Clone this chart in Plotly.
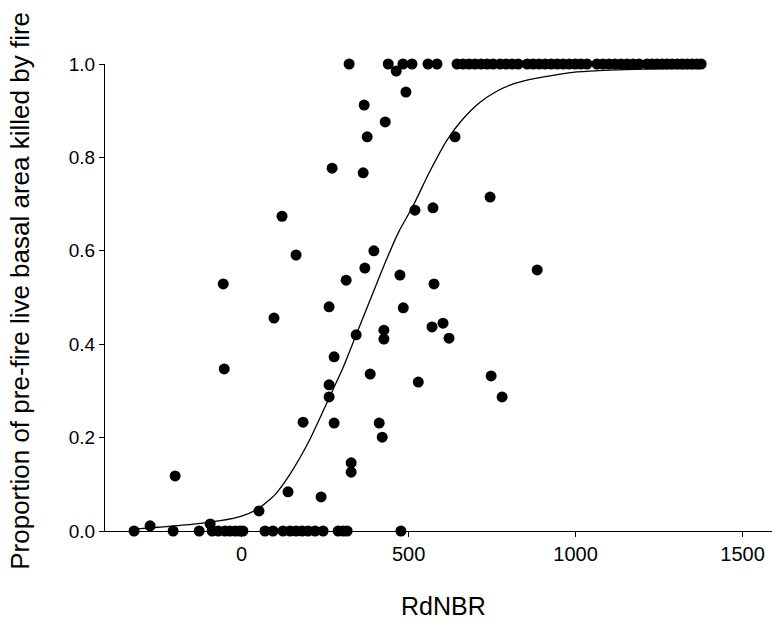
import plotly.graph_objects as go

# Scatter data (RdNBR, proportion killed)
top_x = [322, 439, 483, 510, 558, 585, 645, 663, 681, 699, 717, 735, 753, 774, 792, 810, 828,
         855, 873, 891, 909, 927, 945, 963, 981, 999, 1016, 1034,
         1064, 1082, 1100, 1118, 1136, 1154, 1172, 1190,
         1214, 1229, 1244, 1259, 1274, 1289, 1304, 1319, 1334, 1349, 1364, 1376]
top_y = [1.0] * len(top_x)

mid_x = [463, 367, 430, 376, 271, 364, 492, 639, 744,
         121, 163, -55, 396, 369, 313, 262, 97, 343, 426, 426, 277, -52, 385,
         519, 573, 474, 576, 885, 484, 570, 603, 621, 529, 747, 780,
         262, 262, 184, 277, 412, 421,
         -199, 328, 328, 139, 238, 52, -274, -94]
mid_y = [0.985, 0.912, 0.876, 0.844, 0.777, 0.767, 0.940, 0.844, 0.715,
         0.674, 0.591, 0.529, 0.600, 0.563, 0.537, 0.480, 0.456, 0.420, 0.430, 0.411, 0.373, 0.347, 0.336,
         0.687, 0.692, 0.548, 0.529, 0.559, 0.478, 0.437, 0.445, 0.413, 0.319, 0.332, 0.287,
         0.313, 0.287, 0.233, 0.231, 0.231, 0.201,
         0.118, 0.146, 0.126, 0.084, 0.073, 0.043, 0.011, 0.015]

bot_x = [-322, -205, -127, -88, -70, -50, -35, -19, -5, 4, 70, 94, 124, 145, 163, 181, 199,
         220, 244, 289, 304, 316, 477]
bot_y = [0.0] * len(bot_x)

# Fitted curve
curve_x = [-322, -250, -150, -64, 0, 50, 100, 145, 200, 262, 304, 343, 385, 430, 470, 514,
           560, 615, 660, 714, 760, 804, 864, 950, 1004, 1100, 1202, 1290, 1373]
curve_y = [0.004, 0.008, 0.014, 0.022, 0.032, 0.048, 0.078, 0.122, 0.19, 0.285, 0.35, 0.42,
           0.495, 0.575, 0.64, 0.697, 0.765, 0.837, 0.88, 0.918, 0.94, 0.955, 0.967, 0.978,
           0.983, 0.987, 0.989, 0.99, 0.99]

x_ticks = [0, 500, 1000, 1500]
y_ticks = [0.0, 0.2, 0.4, 0.6, 0.8, 1.0]
y_tick_text = ["0.0", "0.2", "0.4", "0.6", "0.8", "1.0"]

xs = top_x + mid_x + bot_x
ys = top_y + mid_y + bot_y

FONT = "Liberation Sans, Arial, sans-serif"

fig = go.Figure()
fig.add_trace(go.Scatter(x=curve_x, y=curve_y, mode="lines",
                         line=dict(color="black", width=1.3, shape="spline", smoothing=0.6),
                         hoverinfo="skip", cliponaxis=False))
fig.add_trace(go.Scatter(x=xs, y=ys, mode="markers",
                         marker=dict(color="black", size=11, line=dict(width=0)),
                         cliponaxis=False))

fig.update_layout(
    width=772, height=619,
    margin=dict(l=105, r=0, t=64, b=88),
    paper_bgcolor="white", plot_bgcolor="white",
    showlegend=False,
    font=dict(family=FONT, color="black"),
    xaxis=dict(range=[-409, 1588], tickvals=x_ticks, showline=True, linecolor="black",
               linewidth=1, ticks="outside", ticklen=5, tickcolor="black", showgrid=False,
               zeroline=False, tickfont=dict(size=20, family=FONT, color="black")),
    yaxis=dict(range=[0, 1], tickvals=y_ticks, ticktext=y_tick_text, showline=True,
               linecolor="black", linewidth=1, ticks="outside", ticklen=5, tickcolor="black",
               showgrid=False, zeroline=False, tickfont=dict(size=19, family=FONT, color="black")),
    annotations=[
        dict(text="RdNBR", xref="paper", yref="paper", x=0.508, y=-0.161,
             xanchor="center", yanchor="middle", showarrow=False,
             font=dict(size=25, family=FONT, color="black")),
        dict(text="Proportion of pre-fire live basal area killed by fire", xref="paper",
             yref="paper", x=-0.127, y=0.515, xanchor="center", yanchor="middle",
             textangle=-90, showarrow=False, font=dict(size=26, family=FONT, color="black")),
    ],
)

fig.write_html("out.html")
